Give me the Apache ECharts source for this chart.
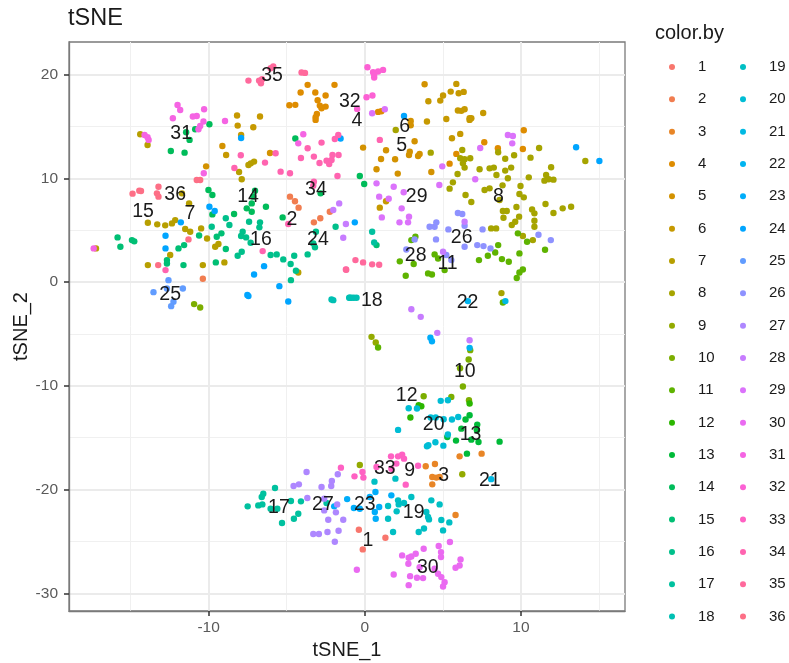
<!DOCTYPE html>
<html>
<head>
<meta charset="utf-8">
<style>html,body{margin:0;padding:0;background:#fff}#c{width:789px;height:663px}</style>
<script src="https://cdn.jsdelivr.net/npm/echarts@6/dist/echarts.min.js"></script>
</head>
<body>
<div id="c"></div>
<script>
const c1=[[-0.38,-23.87],[1.32,-24.65],[-0.13,-25.77]];
const c2=[[-4.79,8.24],[-4.47,7.79],[-4.24,7.18],[-3.26,5.76],[-2.85,6.15],[-2.24,6.79],[-10.37,0.32]];
const c3=[[6.07,-16.8],[7.48,-16.54],[4.49,-17.54],[3.9,-17.76],[4.32,-18.79],[4.58,-18.85],[4.79,-18.79],[4.32,-19.5],[5.81,-22.46]];
const c4=[[-3.66,19.02],[-1.94,19.02],[-4.11,18.28],[-3.17,18.28],[-2.51,17.99],[-3.02,17.54],[-2.88,17.02],[-4.83,17.05],[-4.45,17.09],[-2.77,16.76],[-2.51,16.92],[-3.07,16.22],[-3.15,15.89],[-3.15,15.64],[0.85,16.41],[1.06,16.47],[5.86,12.36],[5.43,11.42],[7.65,13.48],[8.52,12.9],[10.12,12.84],[10.18,14.64]];
const c5=[[-0.11,12.97],[1.36,12.71],[1.04,11.87],[1.94,11.84],[0.75,10.88],[2.11,10.46],[3.19,13.58],[2.88,12.58],[2.83,12.26],[3.51,12.36],[3.41,12.16],[4.26,10.62],[-9.12,13.13],[-6.07,12.45],[-10.16,11.16],[3.83,19.08],[2.94,15.54],[2.94,15.12]];
const c6=[[5.86,19.11],[5.5,18.37],[6.01,18.21],[6.33,18.34],[5.01,17.99],[4.83,17.5],[4.07,17.44],[5.96,16.54],[6.39,16.67],[6.18,16.51],[7.58,16.31],[6.71,15.8],[6.82,15.8],[6.71,15.64],[5.22,15.73],[3.98,15.48],[6.11,14.29],[5.58,13.87],[-8.18,16.06],[-8.14,15.09],[-7.14,14.93],[-6.71,15.96],[-7.92,14.19],[-8.88,12.26],[0.96,7.18],[1.36,7.79]];
const c7=[[-13.89,5.73],[-13.29,5.57],[-12.78,5.47],[-12.35,5.66],[-12.14,5.98],[-11.5,5.12],[-11.18,4.86],[-10.48,5.18],[-10.1,4.21],[-9.58,3.41],[-9.37,3.67],[-13.89,1.64],[-10.37,1.64],[-8.99,1.9],[-12.46,2.61],[-11.25,7.59],[-11.71,8.56],[-13.91,13.22],[-14.38,14.25],[-17.21,3.25],[-4.26,0.93],[-7.45,11.29],[-7.3,11.45],[-7.09,11.62],[-8.05,10.62],[-7.88,9.91]];
const c8=[[1.98,14.67],[4.22,12.48],[6.24,12.74],[6.11,11.94],[6.39,11.84],[6.75,11.94],[6.28,11.45],[6.39,11.04],[5.94,10.42],[5.64,9.62],[5.43,9.01],[6.45,8.4],[6.82,7.72],[7.35,10.88],[7.99,10.97],[8.26,11.04],[8.43,10.33],[8.99,10.75],[9.37,11.04],[9.16,10.01],[8.99,11.9],[9.56,12.23],[8.54,12.52],[10.61,12],[11.16,12.93],[11.93,11.07],[10.5,10.1],[11.61,10.33],[11.5,9.78],[12.08,9.88],[11.78,9.91],[14.12,11.68],[8.82,9.33],[7.67,8.88],[7.99,9.04],[9.97,9.27],[9.9,8.49],[10.18,8.17],[11.57,7.53],[12.67,7.11],[13.21,7.27],[12.08,6.66],[9.71,7.24],[10.71,7.01],[10.86,6.63],[8.84,6.85],[9.09,6.85],[8.88,6.21],[9.88,6.31],[9.63,5.82],[9.41,5.5],[10.86,5.92],[10.86,5.34],[8.09,5.18],[8.41,5.18],[10.12,4.44],[10.76,4.05],[8.75,-1.06],[8.63,7.92]];
const c9=[[0.43,-5.28],[0.7,-5.82],[-0.32,-17.63],[6.24,-18.53]];
const c10=[[6.75,-6.56],[6.65,-7.46],[6.1,-8.3],[6.28,-10.07],[6.67,-11.39],[3.77,-11],[5.54,-11.07],[-10.93,-2.12],[-10.54,-2.45]];
const c11=[[3.24,4.38],[2.98,4.05],[2.24,2],[3.13,1.74],[2.62,0.61],[4.05,0.84],[4.3,0.74],[4.47,2.67],[4.69,2.28],[5.11,1.16],[7.31,2.12],[7.88,2.54],[8.35,2.86],[8.54,3.57],[8.78,2.22],[9.22,1.96],[9.9,2.77],[9.8,4.7],[10.39,3.89],[11.54,3.12],[10.12,1.22],[9.9,0.93],[9.73,0.39],[8.84,-1.96],[0.85,-6.31]];
const c12=[[3.45,-11.87],[3.62,-11.97],[2.92,-13.06],[6.71,-11.71]];
const c13=[[6.71,-12.84],[6.45,-13.25],[7.2,-13.74],[6.18,-14.13],[7.18,-14.28],[5.28,-14.93],[5.84,-15.28],[6.82,-15.19],[7.28,-15.41],[8.63,-15.38],[6.54,-16.54]];
const c14=[[-9.95,15.22],[-10.86,14.74],[-11.44,14.45],[-11.22,13.71],[-12.42,12.64],[-11.54,12.48],[-4.45,13.84],[-10.01,8.88],[-9.76,8.4],[-7.03,8.82],[-7.14,8.24],[-7.24,7.59],[-7.56,7.11],[-7.24,6.79],[-6.33,7.27],[-5.26,6.24],[-9.76,6.53],[-8.37,6.56],[-2.83,8.56],[-0.32,10.23],[-0.04,9.46]];
const c15=[[-15.83,4.31],[-15.65,3.41],[-14.91,4.05],[-14.76,3.93],[-11.93,3.25],[-11.57,3.57],[-12.67,2.12],[-12.67,1.8],[-11.61,1.64],[-10.61,4.5],[-9.48,4.38],[-9.18,4.7],[-9.54,1.9],[-8.9,3.19],[0.75,3.57]];
const c16=[[-8.9,6.15],[-8.67,5.5],[-9.8,5.34],[-7.82,4.86],[-7.92,4.44],[-7.6,4.31],[-7.31,3.8],[-7.41,5.82],[-6.71,5.76],[-6.75,5.28],[-8.14,2.54],[-7.88,2.93],[-6.03,2.61],[-5.64,2.67],[-5.22,2.19],[-4.75,1.74],[-4.52,2.54],[-4.41,1.09],[-4.73,0.19],[-3.66,2.67],[-3.13,4.86],[-3.19,3.35],[-3.3,3.73],[-1.87,5.34]];
const c17=[[-7.5,-21.62],[-6.82,-21.53],[-6.56,-21.43],[-6.6,-20.72],[-6.5,-20.4],[-5.75,-19.85],[-6.03,-21.85],[-5.6,-21.85],[-4.73,-21.1],[-4.09,-21.14],[-5.3,-23.23],[-4.54,-22.81],[-4.26,-22.33],[-2.45,-21.3],[0.47,4.86],[0.6,3.83]];
const c18=[[-2.13,-1.67],[-2.02,-1.74],[-0.96,-1.51],[-1,-1.51],[-0.85,-1.51],[-0.7,-1.51],[-0.53,-1.51]];
const c19=[[0.62,-19.24],[1.96,-18.95],[2.98,-20.72],[1.49,-21.59],[2.13,-21.04],[2.17,-21.43],[2.51,-21.3],[2.04,-22.1],[4.26,-21.04],[4.79,-21.43],[3.94,-22.17],[4.05,-22.65],[4.11,-22.88],[1.49,-22.81],[4.9,-22.94],[5.41,-23.17],[5.01,-23.94],[3.79,-23.75],[3.45,-24.1],[1.81,-24.1]];
const c20=[[4.86,-11.45],[5.32,-11.39],[2.81,-12.16],[3.34,-12.19],[2.13,-14.25],[4.22,-13.06],[4.54,-13.06],[5.05,-13.22],[5.58,-13.25],[5.98,-13],[5.32,-14.7],[4.52,-15.44],[4.07,-15.73],[3.98,-15.83],[5.03,-15.77]];
const c21=[[8.09,-19],[9,-1.83]];
const c22=[[6.6,-1.83],[6.71,-6.34]];
const c23=[[0.68,-20.24],[1.7,-20.56],[-1.13,-20.92],[0.32,-20.72],[-0.7,-21.78],[-0.32,-21.85],[0.92,-21.69],[0.64,-22.17],[0.7,-22.81],[-1.96,-21.62],[4.2,-5.37],[4.3,-5.7]];
const c24=[[-7.92,13.9],[-1.55,13.84],[-9.95,7.27],[-9.61,6.85],[-11.78,5.76],[-12.76,4.47],[-12.76,3.25],[-6.45,1.54],[-7.09,0.74],[-5.47,-0.39],[-7.52,-1.25],[-7.45,-1.35],[-4.9,-1.87],[2.51,16.02],[-0.64,5.76],[13.53,13],[15.02,11.68]];
const c25=[[-12.57,0.19],[-13.53,-0.97],[-11.65,-0.61],[-12.25,-1.9],[-12.4,-2.32],[-12.67,-0.61]];
const c26=[[4.15,5.34],[4.47,5.34],[4.58,5.76],[5.96,6.66],[6.24,6.56],[5.35,5.08],[4.56,4.12],[6.39,5.44],[7.54,5.08],[6.39,3.41],[7.2,3.57],[7.6,3.47],[8.05,3.25],[11.12,4.57],[11.91,4.05],[2.66,3.15],[3.19,4.12],[5.22,2.61],[5.54,2.12]];
const c27=[[-3.73,-18.31],[-1.73,-18.53],[-4.56,-19.66],[-4.22,-19.5],[-2.77,-19.76],[-2.11,-19.17],[-2.15,-19.66],[-3.68,-20.82],[-2.6,-20.88],[-1.77,-21.43],[-2.6,-22.01],[-1.85,-22.2],[-2.34,-22.91],[-1.38,-22.91],[-2.39,-24.1],[-1.68,-23.97],[-3.3,-24.29],[-2.94,-24.29],[-1.92,-25.03]];
const c28=[[5.01,2.93],[2.98,-2.61],[3.58,-3.35],[-1.21,5.6],[-1.38,4.28],[4.64,-4.89],[6.71,-5.6],[6.39,5.82],[-1.64,7.59],[-2.02,6.95]];
const c29=[[0.75,9.52],[1.85,9.2],[2.49,8.66],[0.92,8.24],[1.53,8.04],[2.36,7.11],[1.09,6.24],[2.83,6.31],[2.77,5.76],[2.22,5.76],[0.47,16.28],[1.28,16.67],[4.77,9.36],[4.96,11.16],[7.07,9.91],[7.39,12.93],[9.16,14.19],[9.48,14.09],[9.44,13.38]];
const c30=[[-0.51,-27.73],[2.39,-26.35],[2.81,-26.58],[2.98,-26.45],[3.26,-26.19],[3.77,-25.71],[2.79,-27.15],[1.85,-28.19],[2.9,-28.35],[2.81,-29.22],[3.34,-28.51],[3.73,-28.54],[4.73,-25.45],[4.88,-26.03],[4.88,-26.51],[5.45,-25.06],[6.13,-26.74],[6.07,-27.32],[5.81,-27.54],[4.47,-27.64],[4.69,-28.12],[4.9,-28.44],[5.11,-28.93],[5.01,-29.35],[3.51,-27.48]];
const c31=[[-11.99,17.08],[-11.82,16.6],[-12.29,15.8],[-11.01,15.96],[-10.76,16.02],[-10.29,16.67],[-10.33,15.48],[-10.54,15.06],[-10.65,14.74],[-8.95,15.54],[-14.1,14.19],[-13.91,13.96],[-13.84,13.71],[-10.31,10.49],[-17.36,3.25],[-3.94,14.25],[-4.26,13.38]];
const c32=[[0.17,20.72],[0.53,20.24],[0.85,20.3],[1.17,20.46],[0.6,19.98],[0.6,19.72],[0.11,17.82],[0.49,17.99],[-0.49,16.7]];
const c33=[[1.68,-16.8],[2.13,-16.8],[2.39,-16.63],[2.51,-17.02],[2.02,-17.5],[3.41,-17.7],[1.7,-17.99],[0.75,-17.83],[-1.53,-17.89],[-0.66,-18.73],[-0.15,-18.31],[-0.09,-18.85],[2.62,-19.53]];
const c34=[[-3.66,12.9],[-2.77,13.45],[-1.92,13.8],[-1.7,14.19],[-4.09,11.97],[-3.26,12.1],[-2.9,11.49],[-2.45,11.71],[-2.28,11.39],[-2.07,12.26],[-1.68,12.26],[-2.13,11.78],[-5.39,10.65],[-4.79,10.49],[-6.39,11.52],[-5.71,12.42],[-7.94,12.23],[-8.35,11],[-1.75,10.23],[-3.26,9.68],[-3.3,9.3],[-12.76,1.16],[-6.54,2.99],[-4.9,5.6],[-1.21,1.22],[0.96,13.71]];
const c35=[[-7.45,19.43],[-6.77,19.43],[-6.65,19.18],[-6.58,19.56],[-6.03,20.62],[-5.86,20.79],[-4.05,20.21],[-3.83,20.17],[-1.19,1.19],[-0.6,2.12],[-0.11,1.9],[0.47,1.71],[0.92,1.67]];
const c36=[[-14.87,8.53],[-14.44,8.82],[-14.33,8.78],[-13.21,9.2],[-13.31,8.56],[-13.21,8.24],[-10.76,9.85],[-10.54,9.85],[-11.29,4.12],[-13.23,1.64]];
const clusters=[c1,c2,c3,c4,c5,c6,c7,c8,c9,c10,c11,c12,c13,c14,c15,c16,c17,c18,c19,c20,c21,c22,c23,c24,c25,c26,c27,c28,c29,c30,c31,c32,c33,c34,c35,c36];
const clusterNames=clusters.map((_,i)=>String(i+1));
const labelX=[0.2,-4.66,5.05,-0.5,2.36,2.56,-11.2,8.56,2.88,6.4,5.3,2.68,6.77,-7.48,-14.2,-6.65,-5.5,0.45,3.13,4.41,8,6.58,0,-3,-12.46,6.2,-2.68,3.26,3.32,4.03,-11.76,-0.96,1.28,-3.13,-5.94,-12.14];
const labelY=[-24.9,6,-18.7,15.6,13.2,15,6.56,8.2,-18.2,-8.6,1.74,-10.9,-14.67,8.2,6.76,4.05,-21.7,-1.83,-22.2,-13.7,-19.1,-1.93,-21.5,4.05,-1.25,4.25,-21.5,2.6,8.2,-27.5,14.3,17.4,-17.95,8.88,19.88,8.4];
const xTicks=[-10,0,10];
const yTicks=[-30,-20,-10,0,10,20];
const xMinor=[-15,-5,5,15];
const yMinor=[-25,-15,-5,5,15];

function hueColor(h){
  const L=65,C=100,r=h*Math.PI/180,u=C*Math.cos(r),v=C*Math.sin(r);
  const Y=Math.pow((L+16)/116,3),up=u/(13*L)+0.19784,vp=v/(13*L)+0.46834;
  const X=9*Y*up/(4*vp),Z=Y*(12-3*up-20*vp)/(4*vp);
  const lin=[3.2406*X-1.5372*Y-0.4986*Z,-0.9689*X+1.8758*Y+0.0415*Z,0.0557*X-0.204*Y+1.057*Z];
  const g=lin.map(c=>{c=Math.min(1,Math.max(0,c));c=c<=0.0031308?12.92*c:1.055*Math.pow(c,1/2.4)-0.055;return Math.round(c*255)});
  return 'rgb('+g.join(',')+')';
}
const FONT='"Liberation Sans",Arial,sans-serif';
const palette=clusters.map((_,i)=>hueColor(15+360*i/36));
const gridSeries={type:'line',name:'_grid',data:[],silent:true,z:0,markLine:{silent:true,symbol:'none',animation:false,label:{show:false},z:0,
  data:[
   ...xMinor.map(v=>({xAxis:v,lineStyle:{color:'#f0f0f0',width:1,type:'solid'}})),
   ...yMinor.map(v=>({yAxis:v,lineStyle:{color:'#f0f0f0',width:1,type:'solid'}})),
   ...xTicks.map(v=>({xAxis:v,lineStyle:{color:'#ebebeb',width:2,type:'solid'}})),
   ...yTicks.map(v=>({yAxis:v,lineStyle:{color:'#ebebeb',width:2,type:'solid'}}))
  ]}};
const pointSeries=clusters.map((d,i)=>({type:'scatter',name:clusterNames[i],data:d,symbolSize:6.4,z:2,itemStyle:{color:palette[i],opacity:1},animation:false}));
const labelSeries={type:'scatter',name:'_labels',z:5,silent:true,symbolSize:0,animation:false,
  data:clusterNames.map((n,i)=>({value:[labelX[i],labelY[i]],name:n})),
  label:{show:true,position:'inside',formatter:p=>p.name,fontFamily:FONT,fontSize:19.5,color:'#1a1a1a'},
  itemStyle:{opacity:1}};
const legendBase={orient:'vertical',top:59.5,icon:'circle',itemWidth:42,itemHeight:6,itemGap:17.33,selectedMode:false,padding:0,
  textStyle:{fontFamily:FONT,fontSize:15,color:'#1a1a1a',lineHeight:6}};
const axisCommon={type:'value',splitLine:{show:false},nameLocation:'center',nameMoveOverlap:false,
  nameTextStyle:{fontFamily:FONT,fontSize:20,color:'#1a1a1a'}};
const axisLineStyle={show:true,onZero:false,lineStyle:{color:'#7a7a7a',width:1.3}};
const option={
  animation:false,backgroundColor:'#fff',color:palette,
  title:[
    {text:'tSNE',left:68,top:7,padding:0,textStyle:{fontFamily:FONT,fontSize:23.5,fontWeight:'normal',color:'#1a1a1a'}},
    {text:'color.by',left:655,top:23,padding:0,textStyle:{fontFamily:FONT,fontSize:20,fontWeight:'normal',color:'#1a1a1a'}}
  ],
  grid:{left:69,top:42,width:556,height:569,show:true,borderColor:'#7a7a7a',borderWidth:1.3,backgroundColor:'#fff',containLabel:false,outerBoundsMode:'none'},
  xAxis:{...axisCommon,min:-18.94,max:16.66,name:'tSNE_1',nameGap:29,
    axisLine:axisLineStyle,
    axisTick:{show:true,length:5,customValues:xTicks,lineStyle:{color:'#333',width:1.5}},
    axisLabel:{show:true,customValues:xTicks,margin:9,fontFamily:FONT,fontSize:15.5,color:'#5a5a5a'}},
  yAxis:{...axisCommon,min:-31.71,max:23.15,name:'tSNE_2',nameGap:38,
    axisLine:axisLineStyle,
    axisTick:{show:true,length:5,customValues:yTicks,lineStyle:{color:'#333',width:1.5}},
    axisLabel:{show:true,customValues:yTicks,margin:11,fontFamily:FONT,fontSize:15.5,color:'#5a5a5a'}},
  legend:[
    {...legendBase,left:669,data:clusterNames.slice(0,18)},
    {...legendBase,left:740,data:clusterNames.slice(18)}
  ],
  series:[gridSeries,...pointSeries,labelSeries]
};
echarts.init(document.getElementById('c'),null,{renderer:'canvas'}).setOption(option);
</script>
</body>
</html>
